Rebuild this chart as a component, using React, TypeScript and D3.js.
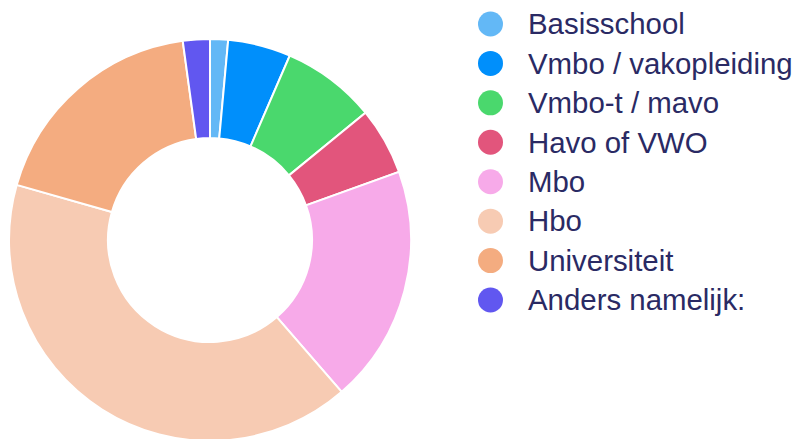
import * as d3 from "d3";

const labels = [
  "Basisschool",
  "Vmbo / vakopleiding",
  "Vmbo-t / mavo",
  "Havo of VWO",
  "Mbo",
  "Hbo",
  "Universiteit",
  "Anders namelijk:",
];
const values = [4, 14, 21, 15, 53, 113, 51, 6];
const colors = [
  "#63b8f6",
  "#008ffb",
  "#4ad86d",
  "#e2557c",
  "#f7aae9",
  "#f7cbb3",
  "#f4ac80",
  "#6157f0",
];

const width = 795;
const height = 439;
const cx = 210;
const cy = 240;
const outerR = 201;
const innerR = 102;

export default function App() {
  const pie = d3
    .pie<number>()
    .sort(null)
    .value((d) => d);
  const arcs = pie(values);
  const arc = d3.arc<d3.PieArcDatum<number>>().innerRadius(innerR).outerRadius(outerR);

  // legend rows
  const legendY = d3
    .scalePoint<string>()
    .domain(labels)
    .range([24, 300]);

  return (
    <svg
      width={width}
      height={height}
      style={{ position: "absolute", left: 0, top: 0 }}
    >
      <g transform={`translate(${cx},${cy})`}>
        {arcs.map((a, i) => (
          <path
            key={labels[i]}
            d={arc(a) || ""}
            fill={colors[i]}
            stroke="#fff"
            strokeWidth={2}
          />
        ))}
      </g>
      <g fontFamily="'Liberation Sans', Arial, sans-serif" fontSize={29.4} fill="#2a2a64">
        {labels.map((l, i) => (
          <g key={l} transform={`translate(0,${legendY(l)})`}>
            <circle cx={490.5} cy={0} r={12.5} fill={colors[i]} />
            <text x={528} y={0} dy="0.35em">
              {l}
            </text>
          </g>
        ))}
      </g>
    </svg>
  );
}
